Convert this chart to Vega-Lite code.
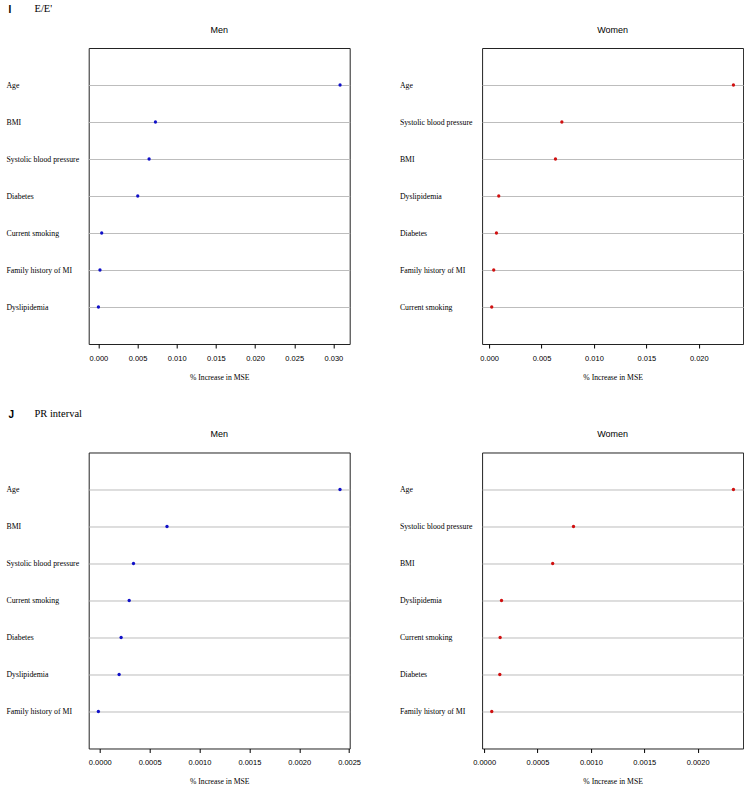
{
  "$schema": "https://vega.github.io/schema/vega-lite/v6.json",
  "padding": {"left": 4.7, "top": 4, "right": 0, "bottom": 0},
  "background": "white",
  "data": {"values": [
    {"outcome": "E/E'", "sex": "Men", "variable": "Age", "value": 0.03085},
    {"outcome": "E/E'", "sex": "Men", "variable": "BMI", "value": 0.00729},
    {"outcome": "E/E'", "sex": "Men", "variable": "Systolic blood pressure", "value": 0.00648},
    {"outcome": "E/E'", "sex": "Men", "variable": "Diabetes", "value": 0.00503},
    {"outcome": "E/E'", "sex": "Men", "variable": "Current smoking", "value": 0.00043},
    {"outcome": "E/E'", "sex": "Men", "variable": "Family history of MI", "value": 0.00021},
    {"outcome": "E/E'", "sex": "Men", "variable": "Dyslipidemia", "value": 0.00001},
    {"outcome": "E/E'", "sex": "Women", "variable": "Age", "value": 0.02331},
    {"outcome": "E/E'", "sex": "Women", "variable": "Systolic blood pressure", "value": 0.00694},
    {"outcome": "E/E'", "sex": "Women", "variable": "BMI", "value": 0.00633},
    {"outcome": "E/E'", "sex": "Women", "variable": "Dyslipidemia", "value": 0.00092},
    {"outcome": "E/E'", "sex": "Women", "variable": "Diabetes", "value": 0.0007},
    {"outcome": "E/E'", "sex": "Women", "variable": "Family history of MI", "value": 0.00044},
    {"outcome": "E/E'", "sex": "Women", "variable": "Current smoking", "value": 0.00025},
    {"outcome": "PR interval", "sex": "Men", "variable": "Age", "value": 0.002409},
    {"outcome": "PR interval", "sex": "Men", "variable": "BMI", "value": 0.000674},
    {"outcome": "PR interval", "sex": "Men", "variable": "Systolic blood pressure", "value": 0.000338},
    {"outcome": "PR interval", "sex": "Men", "variable": "Current smoking", "value": 0.000295},
    {"outcome": "PR interval", "sex": "Men", "variable": "Diabetes", "value": 0.000214},
    {"outcome": "PR interval", "sex": "Men", "variable": "Dyslipidemia", "value": 0.000194},
    {"outcome": "PR interval", "sex": "Men", "variable": "Family history of MI", "value": -0.000014},
    {"outcome": "PR interval", "sex": "Women", "variable": "Age", "value": 0.002335},
    {"outcome": "PR interval", "sex": "Women", "variable": "Systolic blood pressure", "value": 0.000837},
    {"outcome": "PR interval", "sex": "Women", "variable": "BMI", "value": 0.000642},
    {"outcome": "PR interval", "sex": "Women", "variable": "Dyslipidemia", "value": 0.000163},
    {"outcome": "PR interval", "sex": "Women", "variable": "Current smoking", "value": 0.00015},
    {"outcome": "PR interval", "sex": "Women", "variable": "Diabetes", "value": 0.000147},
    {"outcome": "PR interval", "sex": "Women", "variable": "Family history of MI", "value": 0.0000715}
  ]},
  "spacing": 26.5,
  "vconcat": [
    {
      "title": {"text": "I", "anchor": "start", "font": "Liberation Sans", "fontSize": 10, "fontWeight": "bold", "dx": 3, "dy": 11, "offset": 0},
      "vconcat": [
        {
          "title": {"text": "E/E'", "anchor": "start", "font": "Liberation Serif", "fontSize": 10.5, "fontWeight": "normal", "dx": 29, "offset": 10.3},
          "bounds": "flush",
          "spacing": 132.4,
          "hconcat": [
            {
              "width": 261, "height": 296,
              "title": "Men",
              "transform": [{"filter": {"and": [{"field": "outcome", "equal": "E/E'"}, {"field": "sex", "equal": "Men"}]}}],
              "mark": {"type": "circle", "size": 11, "color": "#1010c8", "opacity": 1},
              "encoding": {
                "y": {"field": "variable", "type": "nominal", "sort": {"field": "value", "order": "descending"}, "scale": {"type": "point", "padding": 1}},
                "x": {"field": "value", "type": "quantitative", "scale": {"domain": [-0.00123, 0.03208], "nice": false, "zero": false},
                      "axis": {"values": [0, 0.005, 0.01, 0.015, 0.02, 0.025, 0.03], "format": ".3f", "title": "% Increase in MSE"}}
              }
            },
            {
              "width": 261, "height": 296,
              "title": "Women",
              "transform": [{"filter": {"and": [{"field": "outcome", "equal": "E/E'"}, {"field": "sex", "equal": "Women"}]}}],
              "mark": {"type": "circle", "size": 11, "color": "#d01010", "opacity": 1},
              "encoding": {
                "y": {"field": "variable", "type": "nominal", "sort": {"field": "value", "order": "descending"}, "scale": {"type": "point", "padding": 1}},
                "x": {"field": "value", "type": "quantitative", "scale": {"domain": [-0.00067, 0.02423], "nice": false, "zero": false},
                      "axis": {"values": [0, 0.005, 0.01, 0.015, 0.02], "format": ".3f", "title": "% Increase in MSE"}}
              }
            }
          ]
        }
      ]
    },
    {
      "title": {"text": "J", "anchor": "start", "font": "Liberation Sans", "fontSize": 10, "fontWeight": "bold", "dx": 3, "dy": 11, "offset": 0},
      "vconcat": [
        {
          "title": {"text": "PR interval", "anchor": "start", "font": "Liberation Serif", "fontSize": 10.5, "fontWeight": "normal", "dx": 29, "offset": 10.3},
          "bounds": "flush",
          "spacing": 132.4,
          "hconcat": [
            {
              "width": 261, "height": 296,
              "title": "Men",
              "transform": [{"filter": {"and": [{"field": "outcome", "equal": "PR interval"}, {"field": "sex", "equal": "Men"}]}}],
              "mark": {"type": "circle", "size": 11, "color": "#1010c8", "opacity": 1},
              "encoding": {
                "y": {"field": "variable", "type": "nominal", "sort": {"field": "value", "order": "descending"}, "scale": {"type": "point", "padding": 1}},
                "x": {"field": "value", "type": "quantitative", "scale": {"domain": [-0.000111, 0.002506], "nice": false, "zero": false},
                      "axis": {"values": [0, 0.0005, 0.001, 0.0015, 0.002, 0.0025], "format": ".4f", "title": "% Increase in MSE"}}
              }
            },
            {
              "width": 261, "height": 296,
              "title": "Women",
              "transform": [{"filter": {"and": [{"field": "outcome", "equal": "PR interval"}, {"field": "sex", "equal": "Women"}]}}],
              "mark": {"type": "circle", "size": 11, "color": "#d01010", "opacity": 1},
              "encoding": {
                "y": {"field": "variable", "type": "nominal", "sort": {"field": "value", "order": "descending"}, "scale": {"type": "point", "padding": 1}},
                "x": {"field": "value", "type": "quantitative", "scale": {"domain": [-0.000019, 0.0024255], "nice": false, "zero": false},
                      "axis": {"values": [0, 0.0005, 0.001, 0.0015, 0.002], "format": ".4f", "title": "% Increase in MSE"}}
              }
            }
          ]
        }
      ]
    }
  ],
  "config": {
    "view": {"stroke": "#222222", "strokeWidth": 1},
    "title": {"font": "Liberation Sans", "fontSize": 9, "fontWeight": "normal", "color": "#000000", "offset": 13.5},
    "axisY": {"domain": false, "ticks": false, "title": null, "labelAlign": "left", "labelPadding": 82.7, "labelFont": "Liberation Serif", "labelFontSize": 7.8, "labelColor": "#000000", "grid": true, "gridColor": "#bdbdbd", "gridWidth": 1, "gridOpacity": 1},
    "axisX": {"domain": false, "grid": false, "tickColor": "#000000", "tickSize": 4, "tickWidth": 1, "labelFont": "Liberation Sans", "labelFontSize": 7.5, "labelColor": "#000000", "labelPadding": 6, "labelFlush": false, "labelOverlap": false, "labelBound": false, "titleFont": "Liberation Serif", "titleFontSize": 7.7, "titleFontWeight": "normal", "titleColor": "#000000", "titlePadding": 12}
  }
}
